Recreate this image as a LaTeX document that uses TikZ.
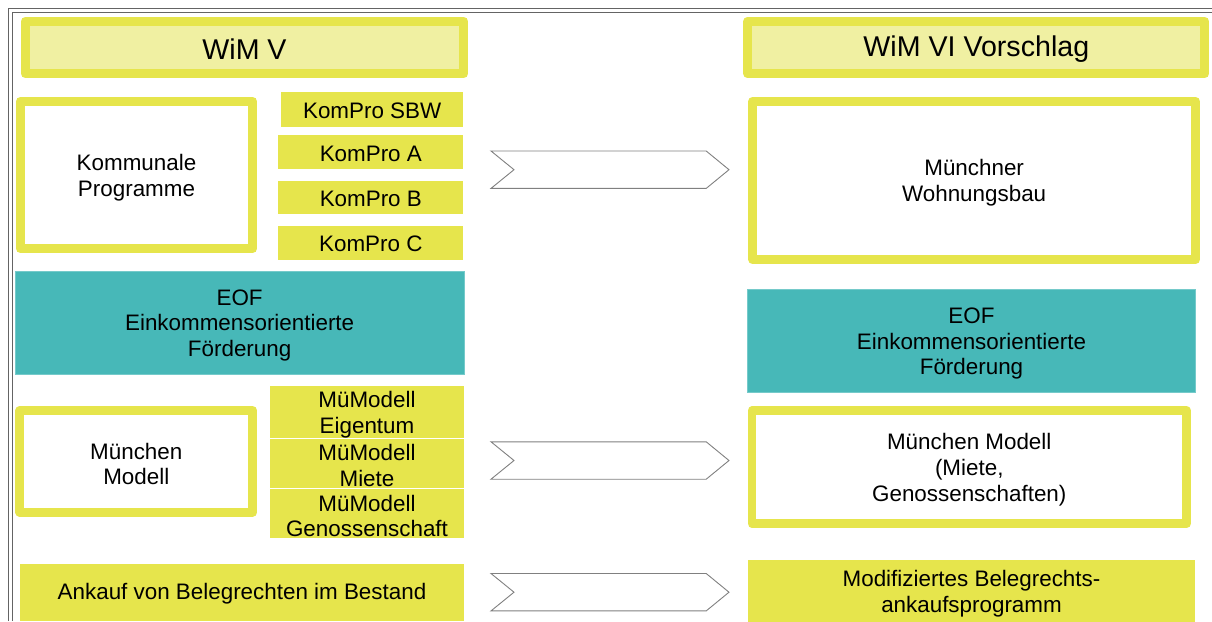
\documentclass[tikz,border=0pt]{standalone}
\usepackage{fontspec}
\setmainfont{Liberation Sans}
\definecolor{ylw}{RGB}{230,229,76}
\definecolor{ylwlight}{RGB}{240,240,162}
\definecolor{teal2}{RGB}{71,184,184}
\definecolor{framegray}{RGB}{100,100,100}
\definecolor{chevgray}{RGB}{128,128,128}
\newcommand\lowA{\rule{0pt}{21.4pt}}
\newcommand\lowB{\rule{0pt}{18.4pt}}
\newcommand\lowH{\rule{0pt}{23pt}}
\tikzset{
 body/.style={font=\fontsize{22.4}{25.8}\selectfont, align=center, inner sep=0pt, outer sep=0pt, text=black},
 hdr/.style={body, draw=ylw, line width=9pt, line join=round, fill=ylwlight, font=\fontsize{28.6}{33}\selectfont},
 framebox/.style={body, draw=ylw, line width=8.8pt, line join=round, fill=white},
 ytile/.style={body, fill=ylw},
 ttile/.style={body, fill=teal2, draw=teal2!75!white, line width=0.6pt},
 chev/.style={draw=chevgray, line width=0.9pt, fill=white, line join=miter},
 frameline/.style={draw=framegray, line width=1pt}
}
\begin{document}
\begin{tikzpicture}[x=1pt,y=-1pt]
\useasboundingbox (0,0) rectangle (1212,621);
% outer double frame
\draw[frameline] (8.5,621) -- (8.5,8.5) -- (1212,8.5);
\draw[frameline] (12,621) -- (12,12) -- (1212,12);
% headers
\node[hdr, minimum width=438.6pt, minimum height=52.6pt] (hl) at (244.5,47.5) {\lowH WiM V};
\node[hdr, minimum width=457pt, minimum height=52.6pt] (hr) at (976.3,47.5) {\lowH WiM VI Vorschlag};
% left column
\node[framebox, minimum width=232.5pt, minimum height=147.5pt] (komm) at (136.5,175) {\lowA Kommunale\\Programme};
\node[ytile, minimum width=182.3pt, minimum height=34.4pt] (sbw) at (372.15,109.5) {\lowB KomPro SBW};
\node[ytile, minimum width=185pt, minimum height=34.3pt] (ka) at (370.8,152.15) {\lowB KomPro A};
\node[ytile, minimum width=185pt, minimum height=33.6pt] (kb) at (370.8,197.5) {\lowB KomPro B};
\node[ytile, minimum width=185pt, minimum height=34.3pt] (kc) at (370.8,242.85) {\lowB KomPro C};
\node[ttile, minimum width=448.7pt, minimum height=103pt] (eofl) at (239.65,322.5) {\lowA EOF\\Einkommensorientierte\\Förderung};
\node[framebox, minimum width=233pt, minimum height=101.7pt] (mml) at (136.3,461.35) {\lowA München\\Modell};
\node[ytile, minimum width=194pt, minimum height=49pt] (mue) at (367,412.2) {\lowA MüModell\\Eigentum};
\node[ytile, minimum width=194pt, minimum height=49pt] (mum) at (367,463.2) {\lowA MüModell\\Miete};
\node[ytile, minimum width=194pt, minimum height=48.7pt] (mug) at (367,513.35) {\lowA MüModell\\Genossenschaft};
\node[ytile, minimum width=444pt, minimum height=56.4pt] (ank) at (242,592.3) {\lowB Ankauf von Belegrechten im Bestand};
% right column
\node[framebox, minimum width=442.7pt, minimum height=158.6pt] (mwb) at (974.15,180.5) {\lowA Münchner\\Wohnungsbau};
\node[ttile, minimum width=448.4pt, minimum height=102.7pt] (eofr) at (971.5,340.65) {\lowA EOF\\Einkommensorientierte\\Förderung};
\node[framebox, minimum width=434.5pt, minimum height=113.3pt] (mmr) at (969.25,467.15) {\lowA München Modell\\(Miete,\\Genossenschaften)};
\node[ytile, minimum width=447pt, minimum height=66pt] (mod) at (971.5,593) {\lowB Modifiziertes Belegrechts-\\ankaufsprogramm};
% chevrons
\foreach \cy in {169.7,460.5,592.2}{
  \draw[chev, shift={(0,\cy)}] (491,-18.7) -- (706.2,-18.7) -- (729,0) -- (706.2,18.7) -- (491,18.7) -- (514,0) -- cycle;
}
\end{tikzpicture}
\end{document}
